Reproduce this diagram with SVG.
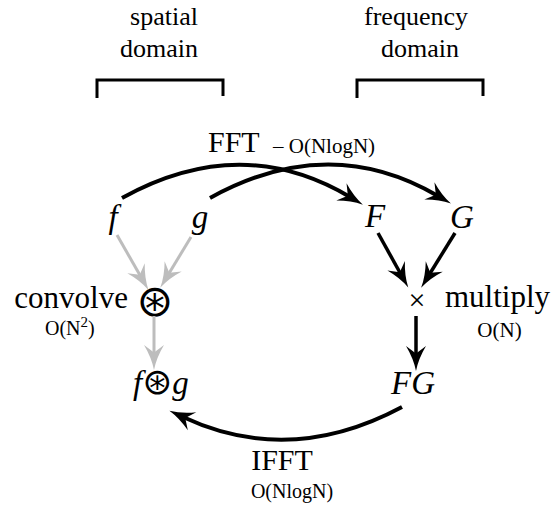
<svg xmlns="http://www.w3.org/2000/svg" width="553" height="512" viewBox="0 0 553 512">
<style>
text{font-family:"Liberation Serif","Times New Roman",serif;fill:#000}
.dom{font-size:26px}
.big{font-size:31px}
.sm{font-size:21px}
.var{font-size:33px;font-style:italic}
.sym{font-family:"DejaVu Sans",sans-serif;font-style:normal}
.br{fill:none;stroke:#000;stroke-width:3}
.arc{fill:none;stroke:#000;stroke-width:4}
.blk{fill:none;stroke:#000;stroke-width:3.5}
.gry{fill:none;stroke:#bdbdbd;stroke-width:3}
</style>
<defs>
<marker id="ah" markerUnits="userSpaceOnUse" markerWidth="30" markerHeight="30" viewBox="-10 -10 24 20" refX="0" refY="0" orient="auto" overflow="visible">
<path d="M12,0 Q2,2 -8,8 L-2,0 L-8,-8 Q2,-2 12,0 Z" fill="#000"/>
</marker>
<marker id="ahg" markerUnits="userSpaceOnUse" markerWidth="30" markerHeight="30" viewBox="-10 -10 24 20" refX="0" refY="0" orient="auto" overflow="visible">
<path d="M12,0 Q2,2 -8,8 L-2,0 L-8,-8 Q2,-2 12,0 Z" fill="#bdbdbd"/>
</marker>
</defs>
<g id="spatial-domain">
<text class="dom" x="164" y="25" text-anchor="middle">spatial</text>
<text class="dom" x="159" y="57" text-anchor="middle">domain</text>
<path class="br" d="M97,98 V80 H223 V96"/>
</g>
<g id="frequency-domain">
<text class="dom" x="416" y="25" text-anchor="middle">frequency</text>
<text class="dom" x="420" y="57" text-anchor="middle">domain</text>
<path class="br" d="M357,98 V80 H483 V96"/>
</g>
<g id="node-f"><text class="var" x="113" y="228" text-anchor="middle">f</text></g>
<g id="node-g"><text class="var" x="200" y="228" text-anchor="middle">g</text></g>
<g id="node-F"><text class="var" x="375" y="227" text-anchor="middle">F</text></g>
<g id="node-G"><text class="var" x="462" y="228" text-anchor="middle">G</text></g>
<g id="node-convolve">
<text class="sym" x="155" y="316" text-anchor="middle" style="font-size:44px">⊛</text>
<text class="big" x="128" y="308" text-anchor="end">convolve</text>
<text class="sm" x="45" y="335" style="font-size:20px">O(N<tspan dy="-8" style="font-size:15px">2</tspan><tspan dy="8">)</tspan></text>
</g>
<g id="node-multiply">
<text class="big" x="417" y="310" text-anchor="middle" style="font-size:30px">×</text>
<text class="big" x="445" y="307">multiply</text>
<text class="sm" x="499.5" y="337" text-anchor="middle">O(N)</text>
</g>
<g id="node-fconvg">
<text class="var" x="133" y="394"><tspan>f</tspan><tspan class="sym" style="font-size:36px">⊛</tspan><tspan>g</tspan></text>
</g>
<g id="node-FG"><text class="var" x="413" y="394" text-anchor="middle">FG</text></g>
<g id="label-fft">
<text class="big" x="208" y="152" style="font-size:30px">FFT</text>
<text class="sm" x="273" y="153">– O(NlogN)</text>
</g>
<g id="label-ifft">
<text class="big" x="282" y="470" text-anchor="middle" style="font-size:30px">IFFT</text>
<text class="sm" x="292" y="498" text-anchor="middle" style="font-size:20px">O(NlogN)</text>
</g>
<g id="connectors">
<path class="arc" d="M122,198 Q241,132 350,197" marker-end="url(#ah)"/>
<path class="arc" d="M210,198 Q329,132 438,196" marker-end="url(#ah)"/>
<path class="gry" d="M117,235 L141,277" marker-end="url(#ahg)"/>
<path class="gry" d="M191,237 L168,275" marker-end="url(#ahg)"/>
<path class="gry" d="M154,316 L154,355" marker-end="url(#ahg)"/>
<path class="blk" d="M378,233 L401,274.5" marker-end="url(#ah)"/>
<path class="blk" d="M455,233 L429,275" marker-end="url(#ah)"/>
<path class="blk" d="M416,316 L416,356" marker-end="url(#ah)"/>
<path class="arc" d="M402,407 Q290,467 183,417" marker-end="url(#ah)"/>
</g>
</svg>
